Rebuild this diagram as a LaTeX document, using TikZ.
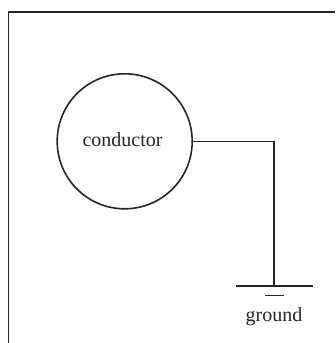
\documentclass[tikz,border=0pt]{standalone}
\usepackage{fontspec}
\setmainfont{Liberation Serif}
\begin{document}
\begin{tikzpicture}[x=1pt,y=-1pt,
  wire/.style={line width=1.6pt, black!85},
  lbl/.style={font=\fontsize{20}{24}\selectfont, text=black!85, inner sep=0pt}]
\useasboundingbox (0,0) rectangle (335,343);
\coordinate (bl) at (8.5,343);
\coordinate (tl) at (8.5,12);
\coordinate (tr) at (335,12);
\draw[wire] (bl) -- (tl) -- (tr);
\node[circle, draw, line width=1.6pt, draw=black!85, minimum size=135pt, inner sep=0pt] (cond) at (124.7,141.3) {};
\node[lbl, anchor=base] (condtext) at (122.5,146) {conductor};
\coordinate (gnd) at (274,286);
\coordinate (gl) at (235.7,286);
\coordinate (gr) at (312.7,286);
\coordinate (sl) at (265,295.3);
\coordinate (sr) at (284,295.3);
\draw[wire] (cond.east) -- (cond.east -| gnd) -- (gnd);
\draw[wire] (gl) -- (gr);
\draw[wire] (sl) -- (sr);
\node[lbl, anchor=base] (gtext) at (274,321) {ground};
\end{tikzpicture}
\end{document}
